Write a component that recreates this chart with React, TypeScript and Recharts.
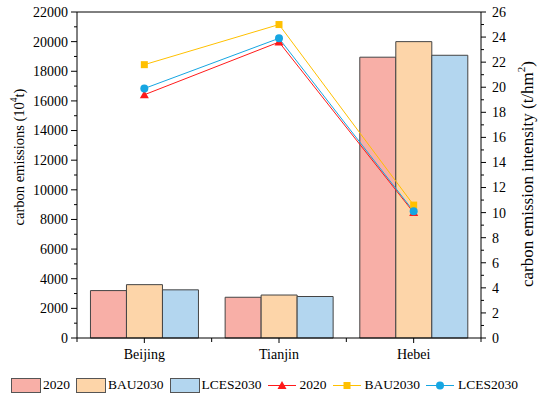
import React from "react";
import {
  ComposedChart,
  Bar,
  Line,
  XAxis,
  YAxis,
  Legend,
  ReferenceLine,
} from "recharts";

const categories = ["Beijing", "Tianjin", "Hebei"];

const emissions2020 = [3200, 2750, 18950];
const emissionsBAU2030 = [3600, 2900, 20000];
const emissionsLCES2030 = [3250, 2800, 19080];

const intensity2020 = [19.4, 23.6, 10.0];
const intensityBAU2030 = [21.8, 25.0, 10.6];
const intensityLCES2030 = [19.9, 23.9, 10.1];

const leftTicks = [
  0, 1000, 2000, 3000, 4000, 5000, 6000, 7000, 8000, 9000, 10000, 11000,
  12000, 13000, 14000, 15000, 16000, 17000, 18000, 19000, 20000, 21000, 22000,
];
const rightTicks = [
  0, 1, 2, 3, 4, 5, 6, 7, 8, 9, 10, 11, 12, 13, 14, 15, 16, 17, 18, 19, 20,
  21, 22, 23, 24, 25, 26,
];

const seriesNames = ["2020", "BAU2030", "LCES2030"];
const barColors = ["#F8AFA7", "#FDD5A9", "#B3D6EF"];
const lineColors = ["#FF1A1A", "#FFC000", "#16A6E2"];

const data = categories.map((name, i) => ({
  name,
  e2020: emissions2020[i],
  eBAU: emissionsBAU2030[i],
  eLCES: emissionsLCES2030[i],
  i2020: intensity2020[i],
  iBAU: intensityBAU2030[i],
  iLCES: intensityLCES2030[i],
}));

const FONT = "'Liberation Serif', 'Times New Roman', serif";
const W = 550;
const H = 399;
const MARGIN = { top: 12, right: 5, left: 5, bottom: 1 };
const LEFT_W = 72;
const RIGHT_W = 64;
const BAND = (W - MARGIN.left - MARGIN.right - LEFT_W - RIGHT_W) / categories.length;

const LeftTick = (props: any) => {
  const { x, y, payload } = props;
  const axisX = x + 9;
  const major = payload.value % 2000 === 0;
  return (
    <g>
      <line x1={axisX - (major ? 6 : 3)} x2={axisX} y1={y} y2={y} stroke="#000" />
      {major && (
        <text x={x} y={y} dy="0.35em" textAnchor="end" fontSize={14} fontFamily={FONT} fill="#000">
          {payload.value}
        </text>
      )}
    </g>
  );
};

const RightTick = (props: any) => {
  const { x, y, payload } = props;
  const axisX = x - 11;
  const major = payload.value % 2 === 0;
  return (
    <g>
      <line x1={axisX} x2={axisX + (major ? 5 : 3)} y1={y} y2={y} stroke="#000" />
      {major && (
        <text x={x} y={y} dy="0.35em" textAnchor="start" fontSize={14} fontFamily={FONT} fill="#000">
          {payload.value}
        </text>
      )}
    </g>
  );
};

const BottomTick = (props: any) => {
  const { x, y, payload, index } = props;
  const axisY = y - 11;
  const last = index === categories.length - 1;
  return (
    <g>
      <line x1={x} x2={x} y1={axisY} y2={axisY + 5} stroke="#000" />
      <line x1={x - BAND / 2} x2={x - BAND / 2} y1={axisY} y2={axisY + 4} stroke="#000" />
      {last && <line x1={x + BAND / 2} x2={x + BAND / 2} y1={axisY} y2={axisY + 4} stroke="#000" />}
      <text x={x} y={y} dy="0.71em" textAnchor="middle" fontSize={14} fontFamily={FONT} fill="#000">
        {payload.value}
      </text>
    </g>
  );
};

const AxisTitle = (props: any) => {
  const { viewBox, side } = props;
  if (!viewBox) return null;
  const left = side === "left";
  const cx = left ? viewBox.x + 14 : viewBox.x + 46;
  const cy = viewBox.y + viewBox.height / 2 + (left ? -18 : -1);
  const fs = left ? 14.5 : 17;
  return (
    <text
      x={cx}
      y={cy}
      transform={`rotate(-90 ${cx} ${cy})`}
      textAnchor="middle"
      dominantBaseline="central"
      fontSize={fs}
      fontFamily={FONT}
      fill="#000"
    >
      {left ? (
        <>
          carbon emissions (10
          <tspan dy={-5} fontSize={fs * 0.65}>4</tspan>
          <tspan dy={5}>t)</tspan>
        </>
      ) : (
        <>
          carbon emission intensity (t/hm
          <tspan dy={-6} fontSize={fs * 0.65}>2</tspan>
          <tspan dy={6}>)</tspan>
        </>
      )}
    </text>
  );
};

const Triangle = (props: any) => {
  const { cx, cy, fill } = props;
  if (cx == null || cy == null) return null;
  return <polygon points={`${cx},${cy - 4.5} ${cx - 4.5},${cy + 3.5} ${cx + 4.5},${cy + 3.5}`} fill={fill} />;
};

const Square = (props: any) => {
  const { cx, cy, fill } = props;
  if (cx == null || cy == null) return null;
  return <rect x={cx - 3.5} y={cy - 3.5} width={7} height={7} fill={fill} />;
};

const Circle = (props: any) => {
  const { cx, cy, fill } = props;
  if (cx == null || cy == null) return null;
  return <circle cx={cx} cy={cy} r={4} fill={fill} />;
};

const markerShapes = [Triangle, Square, Circle];

const LegendRow = () => (
  <div
    style={{
      display: "flex",
      alignItems: "center",
      paddingLeft: 11,
      fontFamily: FONT,
      fontSize: 13.5,
      color: "#000",
      height: 26,
    }}
  >
    {seriesNames.map((n, i) => (
      <div key={"b" + n} style={{ display: "flex", alignItems: "center", marginRight: 6 }}>
        <div
          style={{
            width: 28,
            height: 13,
            background: barColors[i],
            border: "1px solid #555",
            marginRight: 2,
          }}
        />
        <span>{n}</span>
      </div>
    ))}
    {seriesNames.map((n, i) => {
      const Shape = markerShapes[i];
      return (
        <div key={"l" + n} style={{ display: "flex", alignItems: "center", marginRight: 6 }}>
          <svg width={28} height={15} style={{ marginRight: 4 }}>
            <line x1={0} x2={28} y1={7.5} y2={7.5} stroke={lineColors[i]} />
            <Shape cx={14} cy={7.5} fill={lineColors[i]} />
          </svg>
          <span>{n}</span>
        </div>
      );
    })}
  </div>
);

export default function App() {
  const barKeys = ["e2020", "eBAU", "eLCES"];
  const lineKeys = ["i2020", "iBAU", "iLCES"];
  return (
    <div style={{ position: "absolute", left: 0, top: 0, width: W, height: H, background: "#fff" }}>
      <ComposedChart width={W} height={H} data={data} margin={MARGIN} barCategoryGap="10%" barGap={0}>
        <XAxis
          dataKey="name"
          axisLine={{ stroke: "#000" }}
          tickLine={false}
          tickSize={5}
          tickMargin={6}
          height={34}
          tick={<BottomTick />}
          interval={0}
        />
        <YAxis
          yAxisId="left"
          orientation="left"
          width={LEFT_W}
          domain={[0, 22000]}
          ticks={leftTicks}
          interval={0}
          axisLine={{ stroke: "#000" }}
          tickLine={false}
          tickSize={6}
          tickMargin={3}
          tick={<LeftTick />}
          label={<AxisTitle side="left" />}
        />
        <YAxis
          yAxisId="right"
          orientation="right"
          width={RIGHT_W}
          domain={[0, 26]}
          ticks={rightTicks}
          interval={0}
          axisLine={{ stroke: "#000" }}
          tickLine={false}
          tickSize={5}
          tickMargin={6}
          tick={<RightTick />}
          label={<AxisTitle side="right" />}
        />
        <ReferenceLine yAxisId="left" y={22000} stroke="#000" />
        {barKeys.map((k, i) => (
          <Bar
            key={k}
            yAxisId="left"
            dataKey={k}
            name={seriesNames[i]}
            fill={barColors[i]}
            stroke="#444"
            strokeWidth={1}
            isAnimationActive={false}
          />
        ))}
        {lineKeys.map((k, i) => {
          const Shape = markerShapes[i];
          return (
            <Line
              key={k}
              yAxisId="right"
              dataKey={k}
              name={seriesNames[i]}
              stroke={lineColors[i]}
              strokeWidth={1}
              dot={(p: any) => <Shape key={k + p.index} cx={p.cx} cy={p.cy} fill={lineColors[i]} />}
              activeDot={false}
              isAnimationActive={false}
            />
          );
        })}
        <Legend
          verticalAlign="bottom"
          height={26}
          wrapperStyle={{ left: 0, width: W }}
          content={() => <LegendRow />}
        />
      </ComposedChart>
    </div>
  );
}
